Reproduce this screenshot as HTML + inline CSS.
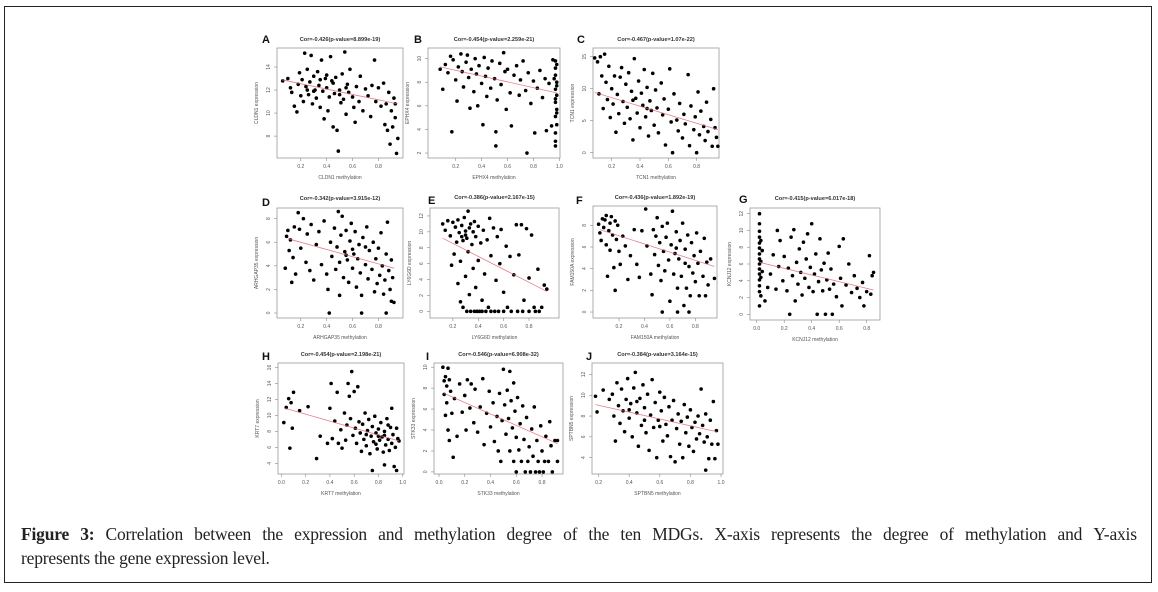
<!DOCTYPE html>
<html><head><meta charset="utf-8">
<style>
html,body{margin:0;padding:0;background:#fff;}
body{width:1158px;height:592px;position:relative;overflow:hidden;font-family:"Liberation Sans",sans-serif;}
#frame{position:absolute;left:4px;top:6px;width:1148px;height:577px;border:1.5px solid #222;box-sizing:border-box;}
#caption{position:absolute;left:21px;top:522px;width:1116px;font-family:"Liberation Serif",serif;font-size:17.5px;line-height:24px;color:#222;letter-spacing:-0.2px;}
#caption .l1{text-align:justify;text-align-last:justify;white-space:nowrap;display:flex;justify-content:space-between;}
svg{position:absolute;left:0;top:0;}
</style></head>
<body>
<div id="frame"></div>
<svg id="fig" width="1158" height="592"></svg>
<div id="caption"><div class="l1"><span><b>Figure</b></span><span><b>3:</b></span><span>Correlation</span><span>between</span><span>the</span><span>expression</span><span>and</span><span>methylation</span><span>degree</span><span>of</span><span>the</span><span>ten</span><span>MDGs.</span><span>X-axis</span><span>represents</span><span>the</span><span>degree</span><span>of</span><span>methylation</span><span>and</span><span>Y-axis</span></div><div>represents the gene expression level.</div></div>
<script>
// ---- data ----
const ptsA=[[0.06,12.8],[0.1,13],[0.12,12.2],[0.13,11.8],[0.15,10.6],[0.17,10.1],[0.18,12.5],[0.19,13.5],[0.2,11.5],[0.21,12.9],[0.22,11],[0.23,15.2],[0.24,12.3],[0.25,13.8],[0.26,11.6],[0.27,12.7],[0.28,15],[0.29,10.8],[0.3,13.2],[0.31,12],[0.32,11.3],[0.33,13.6],[0.34,12.4],[0.35,10.5],[0.36,14.6],[0.37,11.9],[0.38,9.5],[0.39,13],[0.4,12.2],[0.41,10.2],[0.42,11.4],[0.43,14.9],[0.44,12.8],[0.45,8.8],[0.46,11.7],[0.47,13.1],[0.48,8.5],[0.49,6.7],[0.5,12],[0.51,10.9],[0.52,13.4],[0.53,11.2],[0.54,15.3],[0.55,9.9],[0.56,12.5],[0.57,11.8],[0.58,13.8],[0.6,11.4],[0.61,10.5],[0.62,9.2],[0.63,12.3],[0.65,11],[0.66,13.2],[0.68,10.2],[0.7,12.1],[0.72,11.5],[0.74,9.7],[0.75,12.4],[0.77,14.6],[0.78,11],[0.8,12.2],[0.82,10.6],[0.84,12.6],[0.85,9],[0.86,10.8],[0.87,8.5],[0.88,11.8],[0.89,7.3],[0.9,10.2],[0.91,8.8],[0.92,11.3],[0.93,9.6],[0.94,6.5],[0.95,7.8],[0.93,10.8],[0.25,12],[0.3,11.9],[0.35,12.9],[0.45,12.6],[0.5,11.6],[0.4,13.3],[0.55,12.2]];
const ptsB=[[0.08,9.1],[0.1,7.4],[0.12,9.5],[0.14,8.8],[0.16,10.2],[0.17,3.8],[0.18,9.9],[0.2,8.2],[0.21,6.4],[0.22,9.3],[0.24,10.4],[0.25,8.9],[0.26,7.6],[0.28,9.7],[0.29,10.3],[0.3,8.4],[0.31,5.8],[0.32,9.1],[0.34,7.2],[0.35,10],[0.36,8.7],[0.37,6],[0.38,9.4],[0.4,7.9],[0.41,4.4],[0.42,10.1],[0.43,8.5],[0.44,6.8],[0.45,9.2],[0.47,7.5],[0.48,9.8],[0.5,8.3],[0.51,3.8],[0.51,2.6],[0.52,6.5],[0.54,9.6],[0.55,7.8],[0.57,10.5],[0.58,8.9],[0.59,5.7],[0.6,9.1],[0.62,7.1],[0.63,4.3],[0.65,8.6],[0.67,9.4],[0.69,6.9],[0.7,8.2],[0.72,9.8],[0.74,7.3],[0.75,2],[0.76,8.8],[0.78,6.2],[0.8,8.1],[0.81,3.7],[0.83,7.5],[0.85,9],[0.87,6.7],[0.89,8.3],[0.9,3.9],[0.92,7.9],[0.94,4.3],[0.97,9.8],[0.97,9.2],[0.97,8.6],[0.98,8],[0.97,7.4],[0.98,6.9],[0.97,6.3],[0.98,5.7],[0.97,5.1],[0.98,4.4],[0.97,3.7],[0.97,3],[0.97,2.6],[0.98,9.5],[0.98,7.7],[0.97,6.6],[0.98,5.4],[0.96,8.3],[0.95,9.9]];
const ptsC=[[0.08,14.8],[0.1,14.2],[0.11,9.2],[0.12,15],[0.13,12],[0.14,6.9],[0.15,15.4],[0.16,11],[0.17,8.3],[0.18,13.5],[0.19,5.5],[0.2,10],[0.21,7.6],[0.22,12],[0.23,3.2],[0.24,9.1],[0.25,6.1],[0.26,11.8],[0.27,13.3],[0.28,8],[0.29,4.6],[0.3,10.7],[0.31,7.1],[0.32,12.5],[0.33,5.3],[0.34,9.6],[0.35,2],[0.36,14.7],[0.37,8.5],[0.38,6.2],[0.39,11.2],[0.4,3.9],[0.41,9.3],[0.42,7.4],[0.43,13],[0.44,5.6],[0.45,10.2],[0.46,2.6],[0.47,8.1],[0.48,6.6],[0.49,12.4],[0.5,4.3],[0.51,9.8],[0.52,7],[0.53,3.1],[0.55,10.9],[0.56,5.9],[0.57,8.4],[0.58,1.2],[0.6,6.8],[0.61,13.1],[0.62,4.8],[0.63,0],[0.64,9.2],[0.66,5.1],[0.67,3.4],[0.68,7.7],[0.7,2.3],[0.71,6],[0.72,4.5],[0.74,12.2],[0.75,1.1],[0.76,7.3],[0.78,3.6],[0.79,5.6],[0.8,0],[0.81,9.5],[0.82,2.8],[0.83,6.5],[0.85,4.1],[0.86,1.9],[0.87,7.9],[0.88,3.3],[0.9,5.2],[0.91,1],[0.92,10],[0.93,3.9],[0.94,2.4],[0.95,1],[0.45,6.9],[0.35,8.2]];
const ptsD=[[0.08,3.8],[0.09,6.5],[0.1,7],[0.11,5.3],[0.12,6.2],[0.13,2.6],[0.14,4.7],[0.15,7.3],[0.16,3.3],[0.18,8.5],[0.19,7.1],[0.2,5.5],[0.22,8],[0.24,4.3],[0.25,6.7],[0.27,3.6],[0.28,7.5],[0.3,2.8],[0.32,5.8],[0.34,6.9],[0.36,4.1],[0.38,7.8],[0.4,3.3],[0.41,2],[0.42,0],[0.43,6],[0.44,4.8],[0.46,7.2],[0.47,3.7],[0.48,5.6],[0.49,8.6],[0.5,1.5],[0.5,4.3],[0.51,6.6],[0.52,8.2],[0.53,3],[0.54,5.2],[0.55,7],[0.56,4.5],[0.57,2.6],[0.58,6.1],[0.59,7.6],[0.6,3.8],[0.61,5],[0.62,6.9],[0.63,2.2],[0.64,4.6],[0.65,5.8],[0.66,3.4],[0.67,0],[0.67,1.5],[0.68,6.4],[0.7,4.1],[0.71,7.3],[0.72,2.9],[0.73,5.3],[0.75,3.7],[0.76,6],[0.77,1.8],[0.78,4.6],[0.79,2.5],[0.8,5.5],[0.81,3.2],[0.82,6.8],[0.83,4],[0.84,1.6],[0.85,2.8],[0.86,0],[0.86,5],[0.87,7.7],[0.88,3.6],[0.89,2],[0.9,4.5],[0.9,1],[0.91,3],[0.92,0.9],[0.6,5.4],[0.55,4.9],[0.7,5.6]];
const ptsE=[[0.12,11],[0.14,10.2],[0.16,11.4],[0.18,9.5],[0.19,5.8],[0.2,11.2],[0.21,7.2],[0.22,10.6],[0.23,8.7],[0.24,11.5],[0.24,3.5],[0.25,9.9],[0.26,1.2],[0.26,6.3],[0.27,10.8],[0.28,8.9],[0.28,0.5],[0.29,11.8],[0.3,10.1],[0.3,4.4],[0.31,9.2],[0.31,0],[0.32,12.6],[0.32,7.5],[0.33,10.5],[0.33,2.1],[0.34,11],[0.34,0],[0.35,8.4],[0.36,10],[0.36,5.4],[0.37,0],[0.37,11.3],[0.38,9.4],[0.38,3],[0.39,0],[0.4,10.7],[0.4,6.4],[0.41,0],[0.42,8.6],[0.43,1.4],[0.43,0],[0.44,10.2],[0.45,4.7],[0.46,0],[0.47,9],[0.48,0.5],[0.49,11.7],[0.5,0],[0.5,7],[0.52,10.5],[0.53,0],[0.54,3.9],[0.55,9.4],[0.56,0],[0.57,6],[0.58,10.3],[0.6,0],[0.6,2.4],[0.62,8.2],[0.63,0.5],[0.65,6.9],[0.66,0],[0.68,4.6],[0.7,10.9],[0.71,0],[0.72,7.1],[0.74,10.9],[0.75,0],[0.76,1.4],[0.78,10.4],[0.8,0],[0.8,4.2],[0.82,9.6],[0.84,0.5],[0.85,0],[0.87,5.3],[0.88,0],[0.9,0.5],[0.92,3.3],[0.94,2.8],[0.3,9.6],[0.27,9.4]];
const ptsF=[[0.04,8.1],[0.05,7.3],[0.06,6.6],[0.07,8.6],[0.08,7.8],[0.09,8.5],[0.1,6.2],[0.1,8.9],[0.11,3.3],[0.12,7.5],[0.13,8.2],[0.13,5.7],[0.14,8.8],[0.15,7.1],[0.16,4.1],[0.17,8.4],[0.17,2],[0.18,6.7],[0.19,8],[0.2,5.6],[0.21,4.4],[0.23,7],[0.25,6.1],[0.27,3],[0.29,5.2],[0.32,7.6],[0.34,4.4],[0.36,3.2],[0.38,7.5],[0.41,9.5],[0.42,6.1],[0.45,3.5],[0.46,1.6],[0.47,7.6],[0.48,5.3],[0.49,7],[0.5,8.7],[0.51,4.3],[0.52,6.4],[0.53,2.9],[0.54,0],[0.54,7.9],[0.55,5.6],[0.56,3.8],[0.57,6.9],[0.58,8.2],[0.59,4.8],[0.6,1],[0.61,6.2],[0.62,9.3],[0.63,3.5],[0.64,5.4],[0.65,7.4],[0.66,2.2],[0.66,0],[0.67,4.9],[0.68,6.6],[0.69,3.3],[0.7,8.2],[0.71,0.6],[0.72,5.8],[0.73,2.2],[0.74,7.1],[0.75,4.2],[0.75,0],[0.76,1.5],[0.77,6.4],[0.78,3.6],[0.79,5.2],[0.8,2.8],[0.81,7.3],[0.82,4.5],[0.83,1.5],[0.84,5.6],[0.86,3.3],[0.87,6.8],[0.88,1.5],[0.89,4.6],[0.9,2.5],[0.92,4.9],[0.95,3.1],[0.65,5.9],[0.72,4.5]];
const ptsG=[[0.02,12],[0.02,10.8],[0.02,9.9],[0.02,9.2],[0.02,8.5],[0.02,7.9],[0.02,7.2],[0.02,6.6],[0.02,6],[0.02,5.4],[0.02,4.8],[0.02,4.1],[0.02,3.4],[0.02,2.7],[0.02,1],[0.03,8.8],[0.03,6.3],[0.03,4.4],[0.03,2.2],[0.04,7.6],[0.04,5.1],[0.06,1.6],[0.08,3.2],[0.1,4.8],[0.12,7.1],[0.14,3],[0.15,10],[0.16,5.7],[0.17,8.8],[0.19,4],[0.2,6.9],[0.22,2.8],[0.23,5.5],[0.24,0],[0.25,9.2],[0.26,4.6],[0.27,10.1],[0.28,1.6],[0.29,6.2],[0.3,3.6],[0.31,7.8],[0.32,5],[0.33,2.3],[0.34,8.6],[0.35,4.3],[0.36,6.6],[0.37,9.6],[0.38,3.2],[0.39,5.6],[0.4,10.8],[0.41,2.7],[0.42,4.8],[0.43,7.2],[0.44,0],[0.45,3.9],[0.46,9],[0.47,5.3],[0.48,2.8],[0.49,6.1],[0.5,0],[0.51,4.1],[0.52,7.3],[0.53,3],[0.54,5.4],[0.55,0],[0.56,3.6],[0.58,2.1],[0.6,8.1],[0.61,4.3],[0.62,1],[0.63,9],[0.65,3.5],[0.67,6],[0.69,2.6],[0.71,4.6],[0.73,3.1],[0.75,2],[0.77,3.8],[0.78,1],[0.8,2.7],[0.82,7],[0.83,2.4],[0.84,4.6],[0.85,5]];
const ptsH=[[0.02,9.1],[0.04,11],[0.06,12.1],[0.07,5.9],[0.08,11.6],[0.09,8.4],[0.1,12.9],[0.15,10.6],[0.22,11.1],[0.29,4.6],[0.32,7.4],[0.38,6.5],[0.4,10.9],[0.41,14],[0.42,7.1],[0.44,9.3],[0.46,12.9],[0.47,6.5],[0.49,8.2],[0.5,5.9],[0.52,10.3],[0.53,6.9],[0.54,8.8],[0.55,14],[0.56,12.4],[0.57,9.6],[0.58,15.5],[0.59,7.5],[0.6,13],[0.61,8.4],[0.62,6.5],[0.63,13.6],[0.64,9.2],[0.65,7.8],[0.66,5.5],[0.67,8.9],[0.68,7],[0.69,10.3],[0.7,6.2],[0.71,8.1],[0.72,9.5],[0.73,5.2],[0.74,7.4],[0.75,8.6],[0.75,3.1],[0.76,6.7],[0.77,9.9],[0.78,7.8],[0.79,5.8],[0.8,8.3],[0.81,6.9],[0.82,9.1],[0.83,7.3],[0.84,5.4],[0.85,8],[0.85,3.8],[0.86,6.3],[0.87,9.6],[0.88,7],[0.89,5.6],[0.9,8.5],[0.91,6.5],[0.91,10.9],[0.92,7.6],[0.93,3.6],[0.94,6],[0.95,8.4],[0.95,3.1],[0.96,7.1],[0.97,6.8],[0.8,7.4],[0.7,7.6],[0.85,7.5],[0.78,6.4],[0.88,8.8]];
const ptsI=[[0.03,10],[0.04,7.4],[0.04,8.7],[0.05,5.4],[0.05,9.1],[0.06,8.2],[0.06,6.6],[0.07,9.9],[0.07,4],[0.08,8.8],[0.08,3],[0.09,7.7],[0.1,5.6],[0.11,1.4],[0.12,7],[0.14,3.4],[0.16,8.4],[0.18,5.7],[0.2,7.3],[0.21,4],[0.22,8.8],[0.24,6.1],[0.25,8.4],[0.27,4.7],[0.28,7.9],[0.3,3.8],[0.32,6.2],[0.34,8.9],[0.35,2.6],[0.37,5.6],[0.39,7.7],[0.4,4.3],[0.42,6.6],[0.43,2.9],[0.45,5.3],[0.46,2],[0.47,7.5],[0.48,1],[0.49,4.9],[0.5,9.8],[0.51,6.4],[0.52,3.6],[0.53,7.8],[0.54,5.1],[0.55,2],[0.55,9.6],[0.56,6.8],[0.57,4.2],[0.58,8.5],[0.58,1],[0.59,5.8],[0.6,3.3],[0.6,0],[0.61,7.1],[0.62,2.1],[0.63,4.6],[0.64,1],[0.65,6.3],[0.66,3.1],[0.67,0],[0.68,5.2],[0.69,1],[0.7,2.4],[0.71,0],[0.72,4.1],[0.73,1.5],[0.74,6.2],[0.75,0],[0.76,3],[0.77,1],[0.78,0],[0.79,4.4],[0.8,2],[0.81,0],[0.82,1],[0.83,3.4],[0.85,1],[0.86,4.8],[0.87,2.5],[0.88,0],[0.9,3],[0.92,1],[0.92,3]];
const ptsJ=[[0.18,9.9],[0.19,8.4],[0.23,10.5],[0.27,9.6],[0.29,10.1],[0.3,8],[0.31,5.6],[0.32,11.2],[0.33,9],[0.34,7.3],[0.35,10.6],[0.36,8.5],[0.37,6.5],[0.38,9.6],[0.39,11.6],[0.4,7.8],[0.41,9.2],[0.42,6],[0.43,10.7],[0.44,12.2],[0.45,8.3],[0.46,5.1],[0.47,9.7],[0.48,7.1],[0.49,11],[0.5,8.8],[0.51,6.4],[0.52,10.1],[0.53,4.7],[0.54,8.1],[0.55,11.5],[0.56,6.9],[0.57,9.3],[0.58,4],[0.59,7.6],[0.6,10.3],[0.61,8.5],[0.62,5.6],[0.63,9.8],[0.64,7.2],[0.65,6.1],[0.66,8.9],[0.67,4.1],[0.68,7.6],[0.69,9.5],[0.7,3.6],[0.71,6.8],[0.72,8.2],[0.73,5.3],[0.74,7.5],[0.75,4],[0.76,9.1],[0.77,6.4],[0.78,7.9],[0.79,5.1],[0.8,8.6],[0.81,6.9],[0.82,4.6],[0.83,7.4],[0.84,5.8],[0.85,8],[0.86,6.3],[0.87,10.6],[0.88,7.1],[0.89,5.5],[0.9,2.8],[0.9,8.2],[0.91,6],[0.92,3.9],[0.93,7.6],[0.94,5.3],[0.95,9.4],[0.96,3.9],[0.97,6.6],[0.98,5.3],[0.5,7.6],[0.45,9.4],[0.6,7],[0.4,8.6]];
// fit lines [x1,y1,x2,y2]
const fitA=[0.05,12.9,0.95,10.8], fitB=[0.08,9.3,0.98,7.1], fitC=[0.08,9.4,0.95,3.6], fitD=[0.1,6.3,0.92,3.8], fitE=[0.12,9.2,0.94,2.5];
const fitF=[0.05,7.6,0.95,4.2], fitG=[0.02,6.2,0.85,2.9], fitH=[0.03,10.9,0.97,6.8], fitI=[0.04,7.5,0.92,2.7], fitJ=[0.18,9.1,0.97,6.5];
// tick labels
const xtA=[0.2,0.4,0.6,0.8], ytA=[8,10,12,14];
const xtB=[0.2,0.4,0.6,0.8,1.0], ytB=[2,4,6,8,10];
const xtC=[0.2,0.4,0.6,0.8], ytC=[0,5,10,15];
const xtD=[0.2,0.4,0.6,0.8], ytD=[0,2,4,6,8];
const xtE=[0.2,0.4,0.6,0.8], ytE=[0,2,4,6,8,10,12];
const xtF=[0.2,0.4,0.6,0.8], ytF=[0,2,4,6,8];
const xtG=[0.0,0.2,0.4,0.6,0.8], ytG=[0,2,4,6,8,10,12];
const xtH=[0.0,0.2,0.4,0.6,0.8,1.0], ytH=[4,6,8,10,12,14,16];
const xtI=[0.0,0.2,0.4,0.6,0.8], ytI=[0,2,4,6,8,10];
const xtJ=[0.2,0.4,0.6,0.8,1.0], ytJ=[4,6,8,10,12];
const titles=["Cor=-0.426(p-value=8.899e-19)","Cor=-0.454(p-value=2.259e-21)","Cor=-0.467(p-value=1.07e-22)","Cor=-0.342(p-value=3.915e-12)","Cor=-0.386(p-value=2.167e-15)","Cor=-0.436(p-value=1.892e-19)","Cor=-0.415(p-value=6.017e-18)","Cor=-0.454(p-value=2.198e-21)","Cor=-0.546(p-value=6.908e-32)","Cor=-0.384(p-value=3.164e-15)"];
const genes=["CLDN1","EPHX4","TCN1","ARHGAP35","LY6G6D","FAM150A","KCNJ12","KRT7","STK33","SPTBN5"];

// ---- layout (not data) ----
const panels=[
 {L:"A",pts:ptsA,fit:fitA,xt:xtA,yt:ytA,box:[277,48,403,158],xd:[0.016,0.99],yd:[6.1,15.65],lx:262,ly:43,ty:41},
 {L:"B",pts:ptsB,fit:fitB,xt:xtB,yt:ytB,box:[428,48,560,158],xd:[-0.014,1.005],yd:[1.58,10.9],lx:414,ly:43,ty:41},
 {L:"C",pts:ptsC,fit:fitC,xt:xtC,yt:ytC,box:[593,48,719,158],xd:[0.068,0.958],yd:[-0.83,16.36],lx:577,ly:43,ty:41},
 {L:"D",pts:ptsD,fit:fitD,xt:xtD,yt:ytD,box:[277,208,403,318],xd:[0.016,0.99],yd:[-0.42,8.9],lx:262,ly:206,ty:200},
 {L:"E",pts:ptsE,fit:fitE,xt:xtE,yt:ytE,box:[430,208,559,318],xd:[0.02,1.036],yd:[-0.84,13.0],lx:428,ly:204,ty:199},
 {L:"F",pts:ptsF,fit:fitF,xt:xtF,yt:ytF,box:[593,206,717,318],xd:[-0.004,0.97],yd:[-0.55,9.78],lx:576,ly:204,ty:199},
 {L:"G",pts:ptsG,fit:fitG,xt:xtG,yt:ytG,box:[750,208,880,320],xd:[-0.049,0.897],yd:[-0.68,12.68],lx:739,ly:203,ty:200},
 {L:"H",pts:ptsH,fit:fitH,xt:xtH,yt:ytH,box:[278,363,404,474],xd:[-0.028,1.011],yd:[2.66,16.57],lx:262,ly:360,ty:356},
 {L:"I",pts:ptsI,fit:fitI,xt:xtI,yt:ytI,box:[434,363,563,474],xd:[-0.039,0.963],yd:[-0.2,10.4],lx:426,ly:360,ty:356},
 {L:"J",pts:ptsJ,fit:fitJ,xt:xtJ,yt:ytJ,box:[592,363,723,474],xd:[0.157,1.013],yd:[2.43,13.1],lx:586,ly:360,ty:356}
];
const NS="http://www.w3.org/2000/svg";
const svg=document.getElementById('fig');
function mk(tag,attrs,parent){const e=document.createElementNS(NS,tag);for(const k in attrs)e.setAttribute(k,attrs[k]);(parent||svg).appendChild(e);return e;}
panels.forEach((p,i)=>{
 const [x0,y0,x1,y1]=p.box;
 const sx=v=>x0+(v-p.xd[0])/(p.xd[1]-p.xd[0])*(x1-x0);
 const sy=v=>y1-(v-p.yd[0])/(p.yd[1]-p.yd[0])*(y1-y0);
 const g=mk('g',{});
 
 
 const fr=mk('rect',{x:x0,y:y0,width:x1-x0,height:y1-y0,fill:'none',stroke:'#999','stroke-width':0.8},g);
 
 
 const lt=mk('text',{x:p.lx,y:p.ly,'font-size':11,'font-weight':'bold',fill:'#111'},g);
 lt.textContent=p.L;
 
 
 const tt=mk('text',{x:(x0+x1)/2,y:p.ty,'font-size':5.6,'font-weight':'bold','text-anchor':'middle',fill:'#333'},g);
 tt.textContent=titles[i];
 
 
 p.xt.forEach(v=>{
  const X=sx(v);
  mk('line',{x1:X,y1:y1,x2:X,y2:y1+3,stroke:'#888','stroke-width':0.6},g);
  const t=mk('text',{x:X,y:y1+10,'font-size':5,'text-anchor':'middle',fill:'#555'},g);
  t.textContent=v.toFixed(1);
  
  
 });
 p.yt.forEach(v=>{
  const Y=sy(v);
  mk('line',{x1:x0,y1:Y,x2:x0-3,y2:Y,stroke:'#888','stroke-width':0.6},g);
  const t=mk('text',{x:x0-7,y:Y,'font-size':5,'text-anchor':'middle',fill:'#555',transform:`rotate(-90 ${x0-7} ${Y})`},g);
  t.textContent=v;
  
  
 });
 const xl=mk('text',{x:(x0+x1)/2,y:y1+21,'font-size':5,'text-anchor':'middle',fill:'#555'},g);
 xl.textContent=genes[i]+' methylation';
 
 
 const yc=(y0+y1)/2;
 const yl=mk('text',{x:x0-19,y:yc,'font-size':5,'text-anchor':'middle',fill:'#555',transform:`rotate(-90 ${x0-19} ${yc})`},g);
 yl.textContent=genes[i]+' expression';
 
 
 p.pts.forEach(d=>{
  const c=mk('circle',{cx:sx(d[0]),cy:sy(d[1]),r:1.8,fill:'#000'},g);
  
  
 });
 const f=p.fit;
 const ln=mk('line',{x1:sx(f[0]),y1:sy(f[1]),x2:sx(f[2]),y2:sy(f[3]),stroke:'#e06070','stroke-width':0.8,opacity:0.8},g);
 
 
});
</script>
</body></html>
